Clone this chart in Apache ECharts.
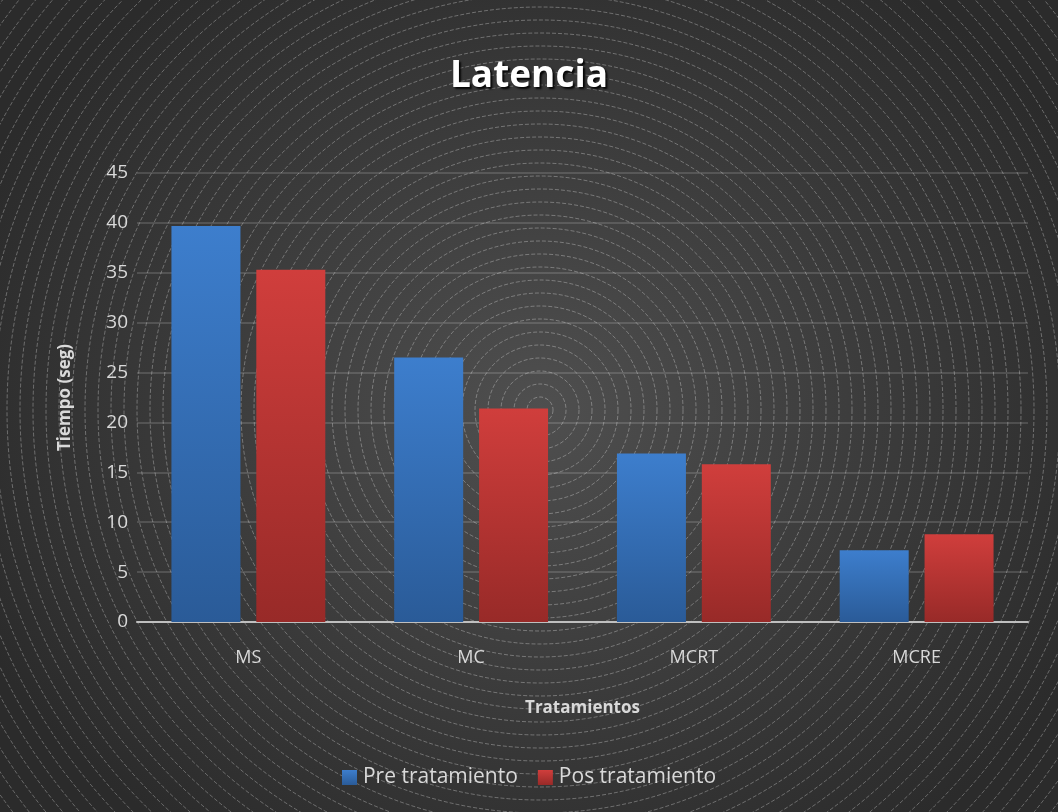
<!DOCTYPE html>
<html>
<head>
<meta charset="utf-8">
<script src="https://cdn.jsdelivr.net/npm/echarts@6/dist/echarts.min.js"></script>
<style>
  html, body { margin: 0; padding: 0; background: #ffffff; }
  #chart {
    width: 1058px; height: 812px;
    background: radial-gradient(ellipse 620px 520px at 540px 410px, #4f4f4f 0%, #3b3b3b 55%, #2b2b2b 100%);
  }
</style>
</head>
<body>
<div id="chart"></div>
<script>
// Latencia por tratamiento (segundos)
const categories = ['MS', 'MC', 'MCRT', 'MCRE'];
const preTratamiento = [39.7, 26.5, 16.9, 7.2];
const posTratamiento = [35.3, 21.4, 15.8, 8.8];
const yTicks = { min: 0, max: 45, interval: 5 };

const chart = echarts.init(document.getElementById('chart'), null, { renderer: 'canvas' });

// concentric dashed rings of the backdrop
const rings = [];
for (let r = 13; r < 720; r += 13) {
  rings.push({
    type: 'circle',
    silent: true,
    z: -10,
    shape: { cx: 540, cy: 410, r: r },
    style: { fill: null, stroke: 'rgba(255,255,255,0.3)', lineWidth: 1, lineDash: [4, 2] }
  });
}

function grad(top, bottom) {
  return new echarts.graphic.LinearGradient(0, 0, 0, 1, [
    { offset: 0, color: top },
    { offset: 1, color: bottom }
  ]);
}

const font = '"Open Sans", "Noto Sans", sans-serif';

chart.setOption({
  backgroundColor: 'transparent',
  animation: false,
  graphic: rings,
  title: {
    text: 'Latencia',
    left: 'center',
    top: 53,
    textStyle: {
      color: '#ffffff',
      fontFamily: font,
      fontWeight: 'bold',
      fontSize: 37,
      textShadowColor: 'rgba(0,0,0,0.9)',
      textShadowOffsetX: 2,
      textShadowOffsetY: 2,
      textShadowBlur: 2
    }
  },
  legend: {
    bottom: 19,
    left: 'center',
    itemWidth: 15,
    itemHeight: 15,
    itemGap: 20,
    icon: 'rect',
    textStyle: { color: '#d9d9d9', fontFamily: font, fontSize: 21, padding: [0, 0, 0, 1] },
    data: ['Pre tratamiento', 'Pos tratamiento']
  },
  grid: { left: 137, right: 30, top: 173, bottom: 190 },
  xAxis: {
    type: 'category',
    data: categories,
    name: 'Tratamientos',
    nameLocation: 'middle',
    nameGap: 78,
    nameTextStyle: { color: '#d9d9d9', fontFamily: font, fontWeight: 'bold', fontSize: 17 },
    axisLine: { lineStyle: { color: '#bfbfbf', width: 2 } },
    axisTick: { show: false },
    axisLabel: { color: '#d9d9d9', fontFamily: font, fontSize: 18, margin: 27 }
  },
  yAxis: {
    type: 'value',
    min: yTicks.min,
    max: yTicks.max,
    interval: yTicks.interval,
    name: 'Tiempo (seg)',
    nameLocation: 'middle',
    nameGap: 63,
    nameTextStyle: { color: '#d9d9d9', fontFamily: font, fontWeight: 'bold', fontSize: 17 },
    axisLine: { show: false },
    axisTick: { show: false },
    axisLabel: { color: '#d9d9d9', fontFamily: font, fontSize: 19, margin: 9 },
    splitLine: { lineStyle: { color: 'rgba(255,255,255,0.14)', width: 2 } }
  },
  series: [
    {
      name: 'Pre tratamiento',
      type: 'bar',
      data: preTratamiento,
      barWidth: 69,
      barGap: '23%',
      itemStyle: { color: grad('#3d7ecd', '#2a5b98') }
    },
    {
      name: 'Pos tratamiento',
      type: 'bar',
      data: posTratamiento,
      barWidth: 69,
      itemStyle: { color: grad('#d03e3c', '#982a28') }
    }
  ]
});
</script>
</body>
</html>
